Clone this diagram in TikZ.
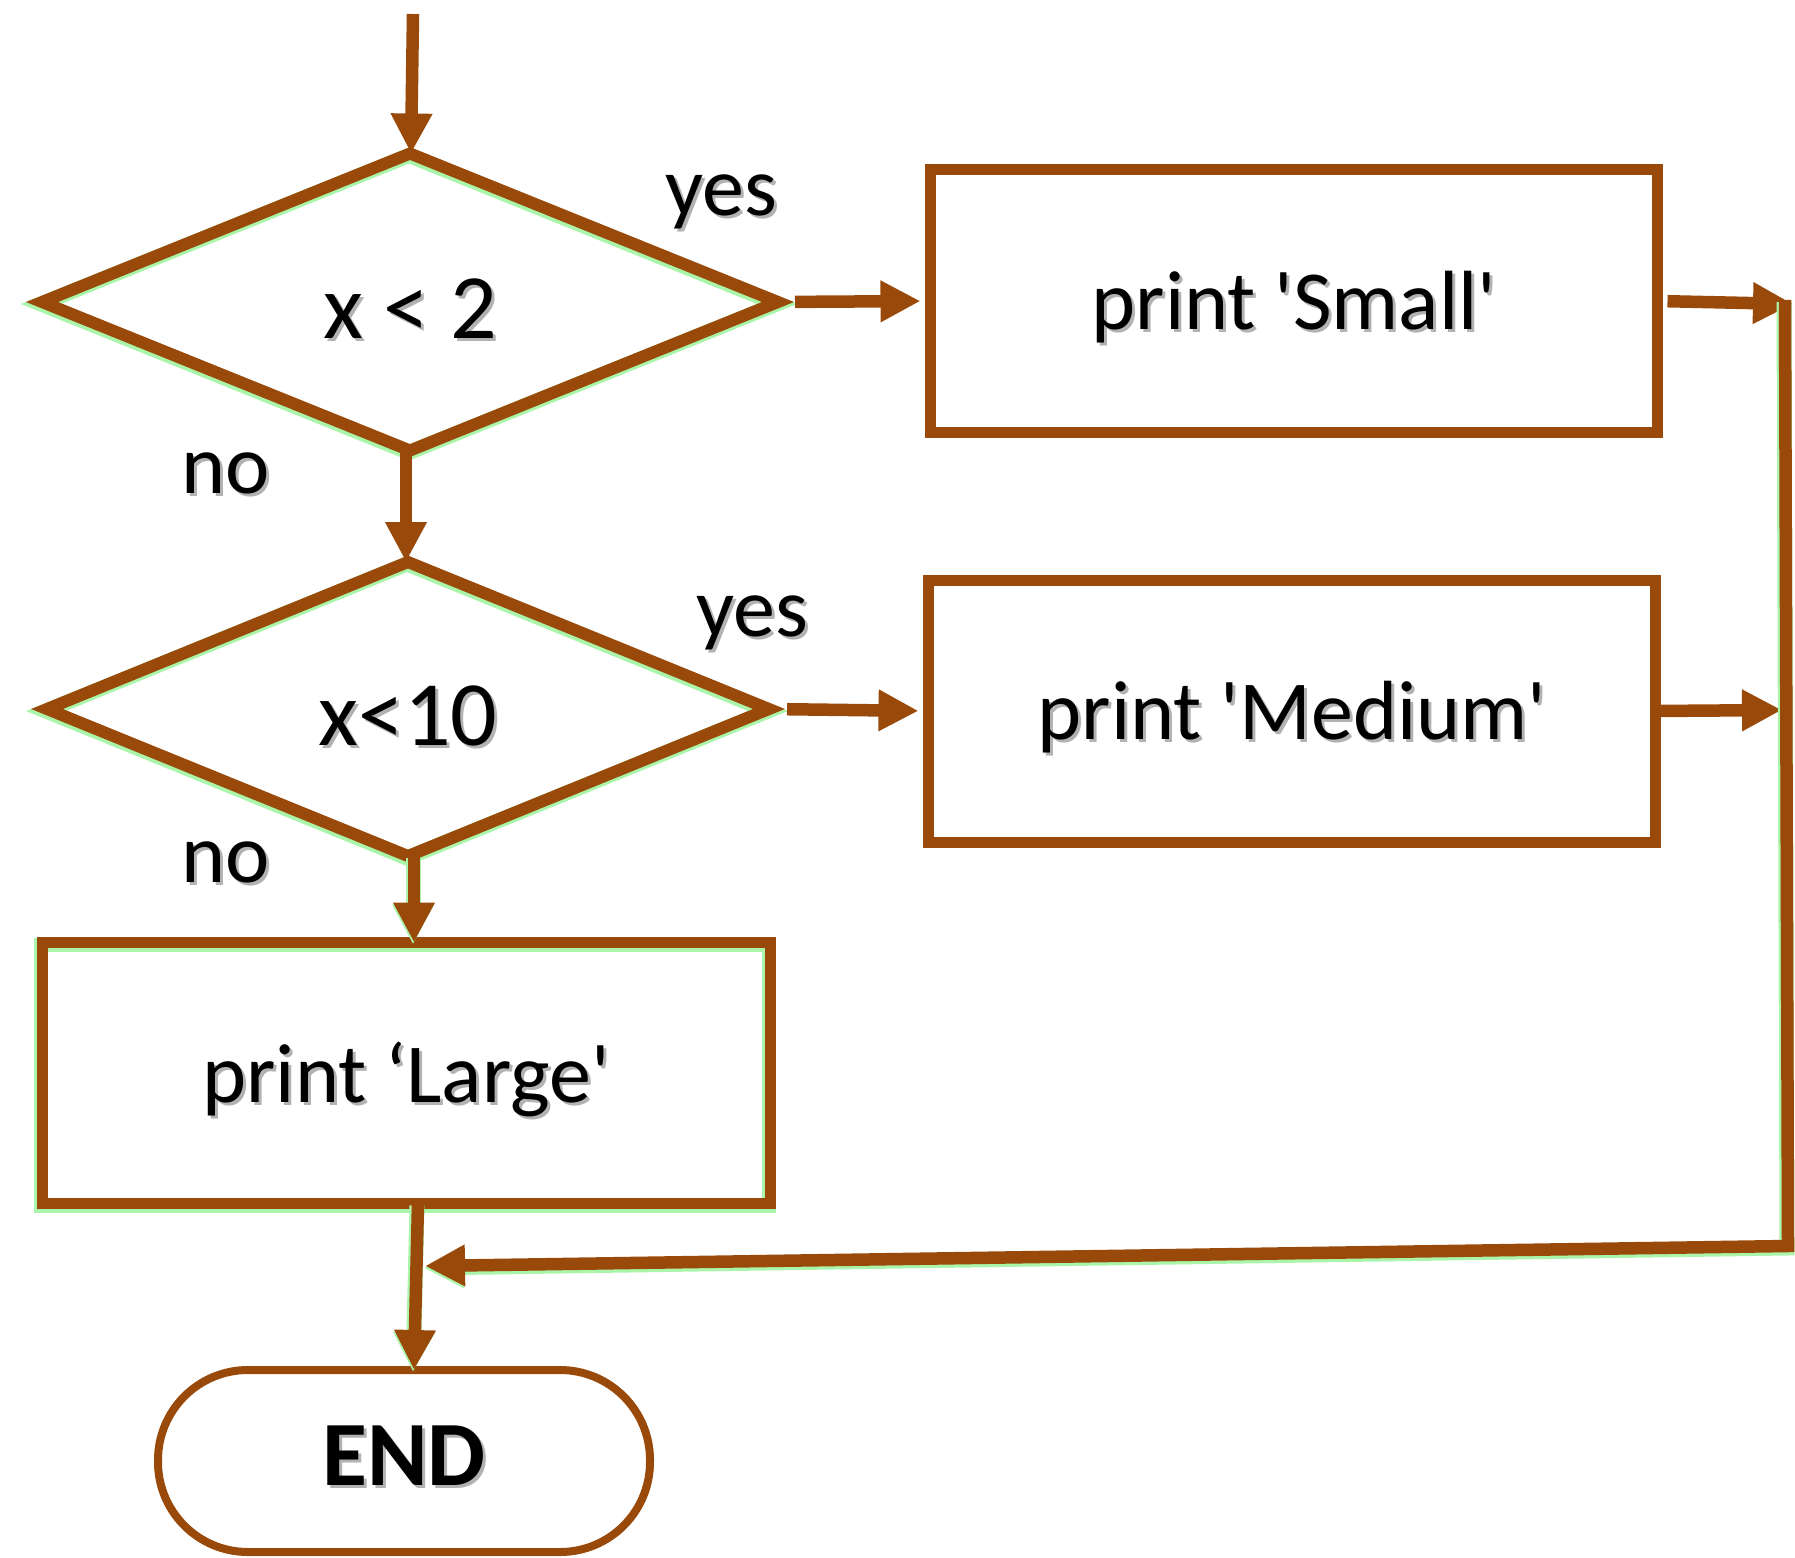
\documentclass[tikz,border=0pt]{standalone}
\usepackage{fontspec}
\setmainfont{Carlito}[Ligatures=TeXOff]
\usetikzlibrary{shapes.geometric,arrows.meta}
\definecolor{brn}{RGB}{153,74,10}
\definecolor{glowc}{RGB}{170,245,170}
\newcommand\shtxt[2][-8pt]{\raisebox{#1}[\height][\depth]{\makebox[0pt][l]{\raisebox{-3pt}{\hspace{3pt}\textcolor{black!30}{#2}}}#2}}
\begin{document}
\begin{tikzpicture}[x=1pt,y=-1pt,
  every node/.style={font=\fontsize{84}{90}\selectfont, text=black},
  glow/.style={preaction={draw=glowc, line width=#1, transform canvas={shift={(-1pt,-2pt)}}}},
  decision/.style={diamond, draw=brn, line width=12pt, inner sep=0pt, outer sep=0pt, font=\fontsize{92}{100}\selectfont, glow=15pt},
  procbox/.style={rectangle, draw=brn, line width=11pt, inner sep=0pt, outer sep=0pt},
  termbox/.style={rectangle, rounded corners=90pt, draw=brn, line width=8pt, inner sep=0pt, outer sep=0pt, font=\fontsize{92}{100}\selectfont\bfseries},
  flow/.style={draw=brn, line width=12.5pt, -{Triangle[length=40pt,width=39pt]}},
  lbl/.style={font=\fontsize{84}{90}\selectfont}
]
\useasboundingbox (0,0) rectangle (1795,1557);
\node[decision, minimum width=736pt, minimum height=297pt] (d1) at (410,302) {\shtxt{x < 2}};
\node[decision, minimum width=722pt, minimum height=294pt] (d2) at (408,709) {\shtxt{x<10}};
\node[procbox, minimum width=727pt, minimum height=262pt] (small) at (1294,301) {\shtxt{print 'Small'}};
\node[procbox, minimum width=727pt, minimum height=262pt] (medium) at (1292,711) {\shtxt{print 'Medium'}};
\node[procbox, glow=14pt, minimum width=728pt, minimum height=261pt] (large) at (406,1073) {\shtxt{print ‘Large'}};
\node[termbox, minimum width=492pt, minimum height=182pt] (end) at (404,1461) {\shtxt[4pt]{END}};

\node[lbl] (yes1) at (721,195) {\shtxt{yes}};
\node[lbl] (no1) at (226,467) {\shtxt{no}};
\node[lbl] (yes2) at (752,616) {\shtxt{yes}};
\node[lbl] (no2) at (226,856) {\shtxt{no}};

\coordinate (start) at (413,14);
\coordinate (m1) at (1793,304);
\coordinate (m2) at (1782,710);
\coordinate (rtop) at (1785,300);
\coordinate (rcorner) at (1788,1246);
\coordinate (join) at (425,1266);

\draw[flow] (start) -- ([xshift=1pt]d1.north);
\draw[flow] ([xshift=-4pt]d1.south) -- ([xshift=-2pt]d2.north);
\draw[flow, shorten <=17pt, shorten >=10pt] (d1.east) -- (small.west);
\draw[flow, shorten <=18pt, shorten >=10pt] (d2.east) -- (medium.west);
\draw[flow, shorten <=10pt] (small.east) -- (m1);
\draw[flow, shorten <=2pt] (medium.east) -- (m2);
\draw[flow, glow=15pt] ([xshift=6pt]d2.south) -- ([xshift=8pt]large.north);
\draw[flow, glow=15pt] ([xshift=12pt]large.south) -- ([xshift=10pt]end.north);
\draw[flow, glow=15pt] (rtop) -- (rcorner) -- (join);
\end{tikzpicture}
\end{document}
